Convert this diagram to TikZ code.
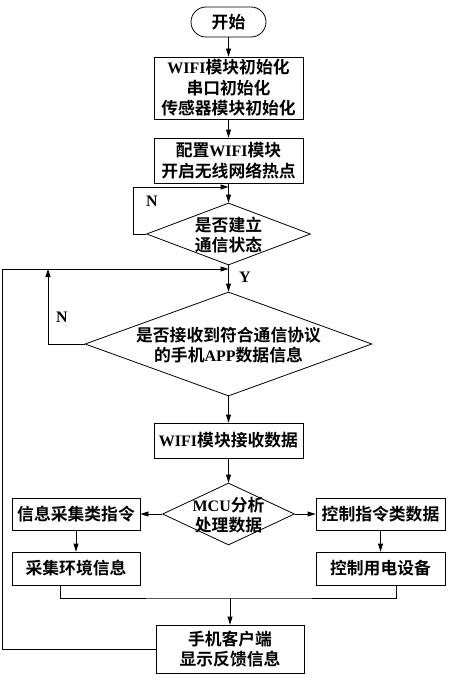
\documentclass[tikz,border=0pt]{standalone}
\usepackage{fontspec}
\setmainfont{Noto Sans CJK SC}[BoldFont={Noto Sans CJK SC Bold}]
\newfontfamily\latf{Liberation Serif}
\newcommand\lt[1]{{\latf\bfseries\fontsize{16}{20}\selectfont #1}}
\usetikzlibrary{arrows.meta,shapes.geometric}
\begin{document}
\begin{tikzpicture}[x=1pt,y=-1pt,line width=0.8pt,
  font=\bfseries\fontsize{16.8}{20.5}\selectfont,
  box/.style={draw,rectangle,inner sep=0pt,align=center},
  term/.style={draw,rectangle,rounded corners=15pt,inner sep=0pt,align=center},
  dia/.style={draw,diamond,inner sep=0pt},
  txt/.style={inner sep=0pt,align=center},
  arr/.style={-{Triangle[length=8pt,width=5pt]}}]
\useasboundingbox (0,0) rectangle (448,682);
\node[term,minimum width=75pt,minimum height=30pt] (start) at (228.5,22) {开始};
\node[box,minimum width=149pt,minimum height=62pt] (b1) at (228.5,88) {\lt{WIFI}模块初始化\\串口初始化\\传感器模块初始化};
\node[box,minimum width=149pt,minimum height=45pt] (b2) at (228.5,160.5) {配置\lt{WIFI}模块\\开启无线网络热点};
\node[dia,minimum width=164pt,minimum height=62pt] (d1) at (228.5,234) {};
\node[txt] (d1t) at (228.5,235) {是否建立\\通信状态};
\node[dia,minimum width=287pt,minimum height=104pt] (d2) at (228.5,344) {};
\node[txt] (d2t) at (228.5,345) {是否接收到符合通信协议\\的手机\lt{APP}数据信息};
\node[box,minimum width=149pt,minimum height=35pt] (b3) at (228.5,440.5) {\lt{WIFI}模块接收数据};
\node[dia,minimum width=132pt,minimum height=62pt] (d3) at (228.5,514) {};
\node[txt] (d3t) at (228.5,515) {\lt{MCU}分析\\处理数据};
\node[box,minimum width=128pt,minimum height=32pt] (bl1) at (76,514) {信息采集类指令};
\node[box,minimum width=129pt,minimum height=32pt] (br1) at (380.5,514) {控制指令类数据};
\node[box,minimum width=128pt,minimum height=33pt] (bl2) at (76,568.5) {采集环境信息};
\node[box,minimum width=129pt,minimum height=33pt] (br2) at (380.5,568.5) {控制用电设备};
\node[box,minimum width=148pt,minimum height=48pt] (b7) at (230,649) {手机客户端\\显示反馈信息};
\node[txt] (n1) at (152,201) {\lt{N}};
\node[txt] (n2) at (62,317) {\lt{N}};
\node[txt] (ylab) at (245,277) {\lt{Y}};
\coordinate (j1) at (228.5,187);
\coordinate (j2) at (228.5,269);
\coordinate (k) at (48,269);
\coordinate (m) at (230,598);
\draw[arr] (start) -- (b1);
\draw[arr] (b1) -- (b2);
\draw[arr] (b2) -- (d1);
\draw[arr] (d1.west) -- ++(-13,0) |- (j1);
\draw[arr] (d1) -- (d2);
\draw[arr] (d2.west) -| (k);
\draw[arr] (b7.west) -- ++(-153,0) |- (j2);
\draw[arr] (d2) -- (b3);
\draw[arr] (b3) -- (d3);
\draw[arr] (d3.west) -- (bl1.east);
\draw[arr] (d3.east) -- (br1.west);
\draw[arr] (bl1) -- (bl2);
\draw[arr] (br1) -- (br2);
\draw ([xshift=-16pt]bl2.south) |- (m) -| ([xshift=16pt]br2.south);
\draw[arr] (m) -- (b7);
\end{tikzpicture}
\end{document}
